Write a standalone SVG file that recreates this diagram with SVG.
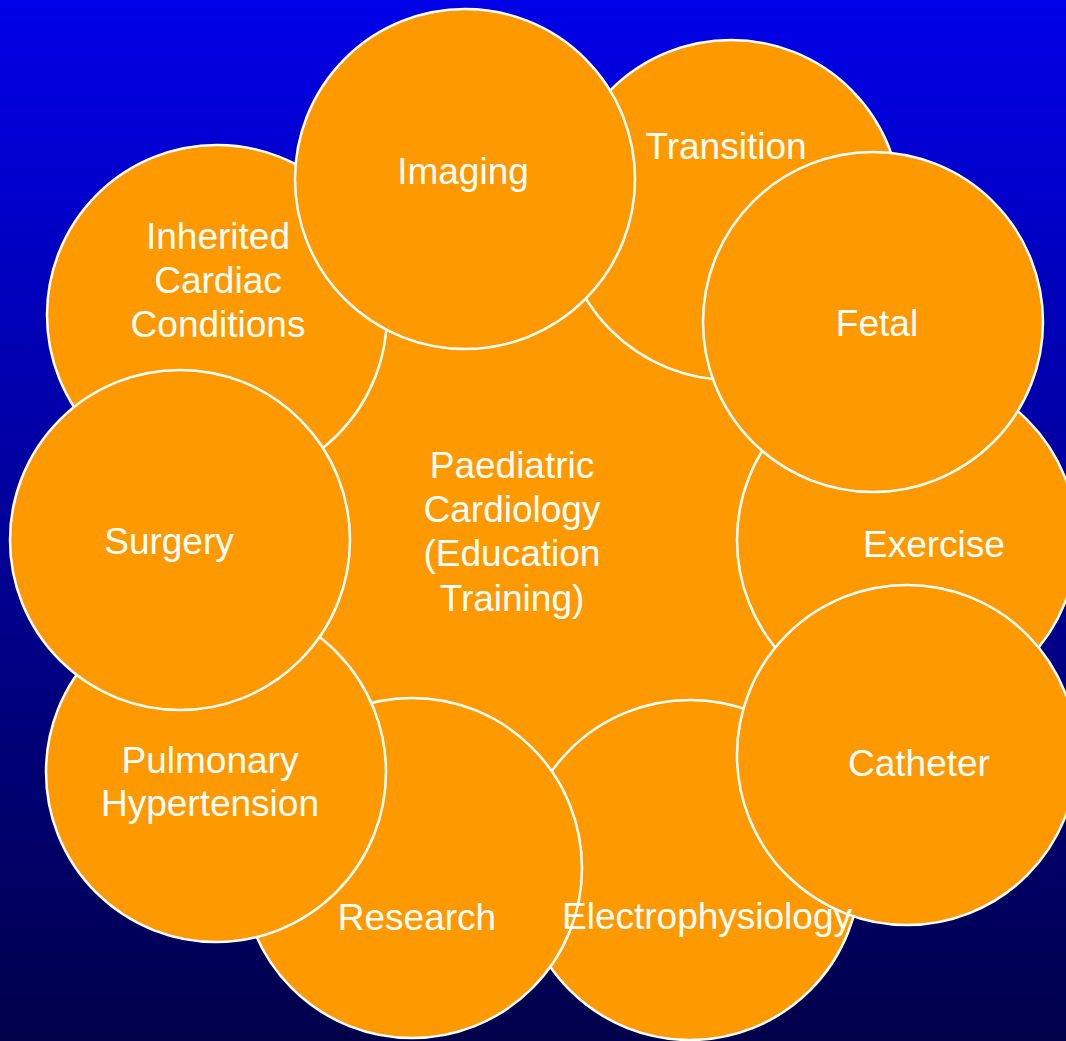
<svg xmlns="http://www.w3.org/2000/svg" width="1066" height="1041" viewBox="0 0 1066 1041">
<defs>
<linearGradient id="bg" x1="0" y1="0" x2="0" y2="1">
<stop offset="0" stop-color="#0000E8"/>
<stop offset="1" stop-color="#00004A"/>
</linearGradient>
</defs>
<style>
.c{fill:#FF9900;stroke:#FFFFFF;stroke-width:2.5}
.t{font-family:"Liberation Sans",Arial,sans-serif;font-size:37px;fill:#FFFFFF;text-anchor:middle}
</style>
<rect width="1066" height="1041" fill="url(#bg)"/>
<g id="center">
<polygon points="731,210 873,322 907,540 907,755 690,870 412,868 216,772 180,540 217,315 465,179" fill="#FF9900"/>
</g>
<g id="transition"><circle class="c" cx="731" cy="210" r="170"/></g>
<g id="exercise"><circle class="c" cx="907" cy="540" r="170"/></g>
<g id="electrophysiology"><circle class="c" cx="690" cy="870" r="170"/></g>
<g id="inherited"><circle class="c" cx="217" cy="315" r="170"/></g>
<g id="research"><circle class="c" cx="412" cy="868" r="170"/></g>
<g id="pulmonary"><circle class="c" cx="216" cy="772" r="170"/></g>
<g id="surgery"><circle class="c" cx="180" cy="540" r="170"/></g>
<g id="imaging"><circle class="c" cx="465" cy="179" r="170"/></g>
<g id="fetal"><circle class="c" cx="873" cy="322" r="170"/></g>
<g id="catheter"><circle class="c" cx="907" cy="755" r="170"/></g>
<g id="labels">
<text class="t" x="726" y="159">Transition</text>
<text class="t" x="463" y="184">Imaging</text>
<text class="t" x="218" y="249">Inherited</text>
<text class="t" x="218" y="293">Cardiac</text>
<text class="t" x="218" y="337">Conditions</text>
<text class="t" x="877" y="336">Fetal</text>
<text class="t" x="512" y="478">Paediatric</text>
<text class="t" x="512" y="522">Cardiology</text>
<text class="t" x="512" y="566">(Education</text>
<text class="t" x="512" y="611">Training)</text>
<text class="t" x="169" y="554">Surgery</text>
<text class="t" x="934" y="557">Exercise</text>
<text class="t" x="919" y="776">Catheter</text>
<text class="t" x="210" y="773">Pulmonary</text>
<text class="t" x="210" y="816">Hypertension</text>
<text class="t" x="417" y="930">Research</text>
<text class="t" x="707" y="929">Electrophysiology</text>
</g>
</svg>
